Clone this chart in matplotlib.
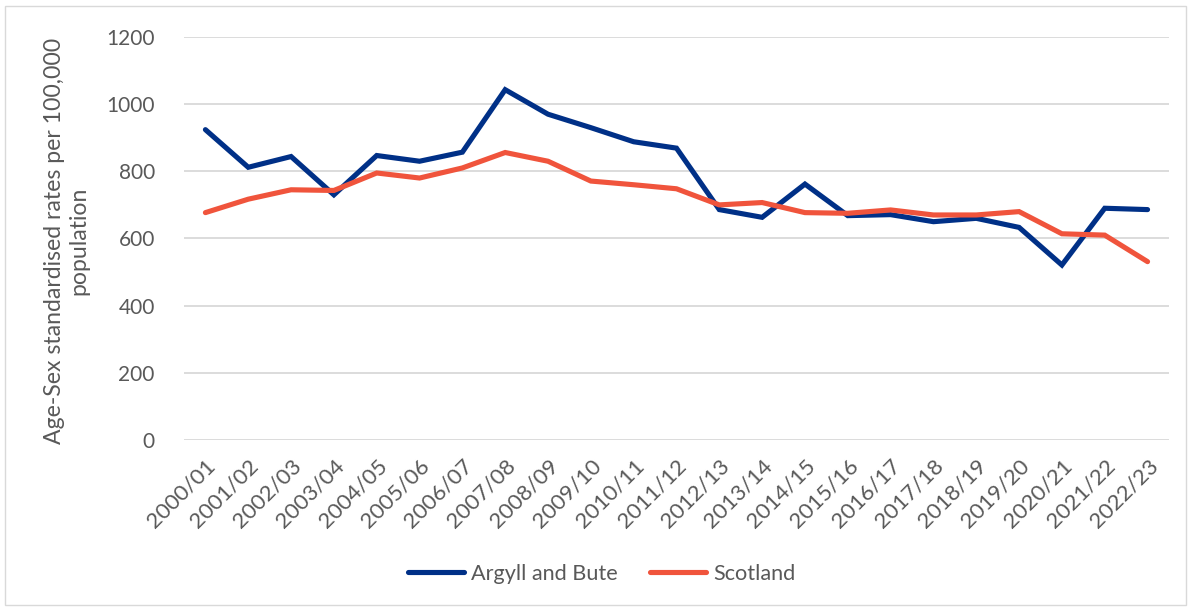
import matplotlib.pyplot as plt
from matplotlib.patches import Rectangle

years = ["2000/01", "2001/02", "2002/03", "2003/04", "2004/05", "2005/06",
         "2006/07", "2007/08", "2008/09", "2009/10", "2010/11", "2011/12",
         "2012/13", "2013/14", "2014/15", "2015/16", "2016/17", "2017/18",
         "2018/19", "2019/20", "2020/21", "2021/22", "2022/23"]

argyll_bute = [924, 812, 844, 730, 847, 830, 857, 1043, 970, 930, 888, 869,
               686, 663, 762, 668, 671, 650, 660, 633, 521, 690, 686]
scotland = [677, 717, 745, 743, 795, 780, 810, 856, 830, 771, 760, 748,
            700, 707, 677, 675, 685, 670, 670, 680, 614, 610, 531]

text_col = "#595959"
plt.rcParams["font.family"] = ["Lato", "DejaVu Sans"]

fig = plt.figure(figsize=(11.91, 6.10), dpi=100)
ax = fig.add_axes([0.1545, 0.2787, 0.827, 0.6607])

x = range(len(years))
ax.plot(x, argyll_bute, color="#003087", lw=3.7, label="Argyll and Bute",
        solid_joinstyle="miter", solid_capstyle="round")
ax.plot(x, scotland, color="#F0543C", lw=3.7, label="Scotland",
        solid_joinstyle="miter", solid_capstyle="round")

ax.set_xlim(-0.5, len(years) - 0.5)
ax.set_ylim(0, 1200)
ax.set_yticks(range(0, 1201, 200))
ax.set_xticks(list(x))
ax.set_xticklabels(years, rotation=45, ha="right", rotation_mode="anchor")
ax.grid(axis="y", color="#D9D9D9", lw=1.3)
ax.set_axisbelow(True)
for s in ax.spines.values():
    s.set_visible(False)
ax.tick_params(length=0, colors=text_col, labelsize=15)
ax.tick_params(axis="y", pad=21)
ax.tick_params(axis="x", pad=11, labelsize=16)

ax.set_ylabel("Age-Sex standardised rates per 100,000\npopulation",
              color=text_col, fontsize=16.6, linespacing=1.2)
ax.yaxis.set_label_coords(-0.096, 0.495)

fig.legend(loc="center", bbox_to_anchor=(0.505, 1 - 574 / 610), ncol=2,
           frameon=False, handlelength=2.6, handletextpad=0.3,
           columnspacing=1.5, labelcolor=text_col, fontsize=15.6)

# thin frame round the whole chart
fig.patches.append(Rectangle((0.004, 0.008), 0.992, 0.982, transform=fig.transFigure,
                             fill=False, edgecolor="#D9D9D9", lw=1.0))

fig.savefig("out.png", dpi=100)
